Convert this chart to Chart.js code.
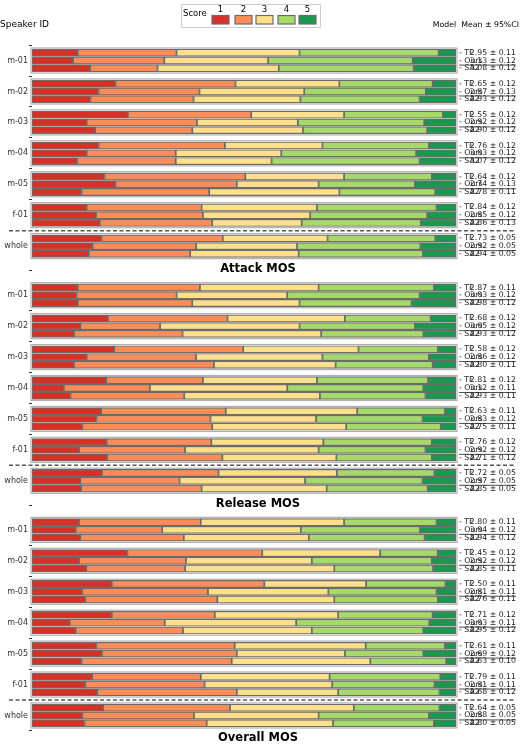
<!DOCTYPE html>
<html><head><meta charset="utf-8">
<script src="https://cdn.jsdelivr.net/npm/chart.js@4"></script>
<style>html,body{margin:0;padding:0;background:#fff}#w{width:520px;height:754px}</style>
</head><body><div id="w"><canvas id="c"></canvas></div>
<script>
const speakers = ["m-01","m-02","m-03","m-04","m-05","f-01","whole"];
const models = ["TF","Ours","SA2"];
const panelTitles = ["Attack MOS","Release MOS","Overall MOS"];
const scoreLabels = ["1","2","3","4","5"];
// cumulative % boundaries (end of score 1,2,3,4) per row: speaker x model
const attackCum = [
 [10.8,34.1,63.1,95.9],[9.7,31.2,55.7,89.8],[13.7,29.6,58.2,90.0],
 [19.7,48.0,72.5,94.5],[15.7,39.5,64.2,92.9],[13.8,38.1,63.3,91.4],
 [22.6,51.7,73.6,96.9],[12.9,38.9,62.7,92.5],[14.9,37.8,63.9,93.2],
 [15.7,45.5,68.5,93.6],[12.9,33.9,58.8,90.6],[10.6,33.9,56.5,91.4],
 [17.1,50.3,73.6,94.3],[19.7,48.3,67.6,90.3],[11.7,41.8,72.5,95.1],
 [12.9,40.0,67.2,95.4],[15.1,40.3,65.6,93.2],[16.0,42.5,63.6,91.7],
 [16.4,45.0,69.7,95.1],[14.3,38.7,62.5,91.6],[13.4,37.3,62.9,92.2]];
const releaseCum = [
 [10.8,39.6,67.6,94.8],[10.5,34.1,60.2,91.4],[10.8,37.8,63.1,89.5],
 [17.9,46.1,73.8,94.0],[11.4,30.2,63.1,90.3],[9.9,35.5,68.2,92.3],
 [19.4,49.8,77.0,95.7],[12.9,38.7,68.5,93.6],[9.9,42.9,71.6,94.5],
 [17.5,40.3,67.2,93.4],[7.5,27.8,60.2,92.3],[9.1,35.9,67.9,92.8],
 [16.3,45.7,76.7,97.4],[15.2,42.1,67.0,92.1],[11.9,42.5,74.1,96.4],
 [17.6,42.3,68.7,94.3],[11.1,36.1,67.6,92.8],[17.7,44.9,71.8,94.3],
 [16.5,44.0,71.9,94.9],[11.4,34.8,64.4,92.1],[11.6,40.0,69.5,93.3]];
const overallCum = [
 [11.1,39.8,73.6,95.4],[10.3,30.7,63.4,91.5],[11.4,35.8,65.3,92.6],
 [22.5,54.3,82.1,95.7],[11.1,36.3,66.0,94.3],[12.8,36.1,71.3,94.6],
 [18.8,54.8,78.8,97.5],[11.9,41.5,69.9,95.4],[12.6,43.7,71.3,95.7],
 [18.8,43.1,72.2,94.5],[8.9,31.3,62.3,93.7],[10.3,35.6,66.0,92.3],
 [15.2,47.8,78.7,97.4],[16.5,48.3,73.8,92.3],[11.7,47.1,79.8,97.7],
 [14.2,39.8,70.2,96.3],[12.6,40.7,70.8,94.9],[15.4,48.3,72.2,96.1],
 [16.8,46.7,75.9,96.1],[11.9,38.2,67.6,93.6],[12.4,41.2,71.0,94.8]];
const attackMean = ["2.95 ± 0.11","3.13 ± 0.12","3.08 ± 0.12","2.65 ± 0.12","2.87 ± 0.13","2.93 ± 0.12","2.55 ± 0.12","2.92 ± 0.12","2.90 ± 0.12","2.76 ± 0.12","3.03 ± 0.12","3.07 ± 0.12","2.64 ± 0.12","2.74 ± 0.13","2.78 ± 0.11","2.84 ± 0.12","2.85 ± 0.12","2.86 ± 0.13","2.73 ± 0.05","2.92 ± 0.05","2.94 ± 0.05"];
const releaseMean = ["2.87 ± 0.11","3.03 ± 0.12","2.98 ± 0.12","2.68 ± 0.12","3.05 ± 0.12","2.93 ± 0.12","2.58 ± 0.12","2.86 ± 0.12","2.80 ± 0.11","2.81 ± 0.12","3.12 ± 0.11","2.93 ± 0.11","2.63 ± 0.11","2.83 ± 0.12","2.75 ± 0.11","2.76 ± 0.12","2.92 ± 0.12","2.71 ± 0.12","2.72 ± 0.05","2.97 ± 0.05","2.85 ± 0.05"];
const overallMean = ["2.80 ± 0.11","3.04 ± 0.12","2.94 ± 0.12","2.45 ± 0.12","2.92 ± 0.12","2.85 ± 0.11","2.50 ± 0.11","2.81 ± 0.11","2.76 ± 0.11","2.71 ± 0.12","3.03 ± 0.11","2.95 ± 0.12","2.61 ± 0.11","2.69 ± 0.12","2.63 ± 0.10","2.79 ± 0.11","2.81 ± 0.11","2.68 ± 0.12","2.64 ± 0.05","2.88 ± 0.05","2.80 ± 0.05"];

const colors = ["#d73027","#fc8d59","#fee08b","#a6d96a","#1a9850"];
const panels = [attackCum, releaseCum, overallCum];
const means = [attackMean, releaseMean, overallMean];
const PANEL = 30.35, GROUP = 4.0;
const rowPos = (p,g,r) => p*PANEL + g*GROUP + r;

const datasets = scoreLabels.map((s,k) => {
  const data = [];
  panels.forEach((cum,p) => cum.forEach((row,i) => {
    const a = k===0 ? 0 : row[k-1], b = k===4 ? 100 : row[k];
    data.push({y: rowPos(p, Math.floor(i/3), i%3), x: [a,b]});
  }));
  return {label: s, data, backgroundColor: colors[k], borderColor: "#6b6b6b", borderWidth: 1.2, borderSkipped: false, barThickness: 7.2, grouped: false};
});

const tickMap = {};
panels.forEach((_,p) => speakers.forEach((s,g) => { tickMap[rowPos(p,g,1).toFixed(2)] = s; }));
const FONT = "'DejaVu Sans', sans-serif";

const deco = {
  id: "deco",
  afterDatasetsDraw(chart) {
    const ctx = chart.ctx, y = chart.scales.y, x = chart.scales.x;
    const L = x.getPixelForValue(0), R = x.getPixelForValue(100);
    ctx.save();
    panels.forEach((cum,p) => {
      for (let g=0; g<7; g++) {
        const t = y.getPixelForValue(rowPos(p,g,0)) - 4.8, b = y.getPixelForValue(rowPos(p,g,2)) + 4.8;
        ctx.strokeStyle = "#b0b0b0"; ctx.lineWidth = 1.2; ctx.strokeRect(L-1, t, R-L+2, b-t);
        for (let r=0; r<3; r++) {
          const i = g*3+r, yy = y.getPixelForValue(rowPos(p,g,r));
          ctx.fillStyle = "#222"; ctx.font = "7.8px " + FONT; ctx.textBaseline = "middle";
          ctx.textAlign = "left"; ctx.fillText("- " + models[r], R+3, yy);
          ctx.textAlign = "right"; ctx.fillText(means[p][i], 516, yy);
          if (r===1) { ctx.strokeStyle="#222"; ctx.lineWidth=0.8; ctx.beginPath(); ctx.moveTo(R+3, yy+4.5); ctx.lineTo(516, yy+4.5); ctx.stroke(); }
        }
      }
      const dy = y.getPixelForValue(rowPos(p,5,2)+1);
      ctx.strokeStyle = "#555"; ctx.lineWidth = 1.5; ctx.setLineDash([4,2.5]);
      ctx.beginPath(); ctx.moveTo(9, dy); ctx.lineTo(516, dy); ctx.stroke(); ctx.setLineDash([]);
      const ty = y.getPixelForValue(rowPos(p,6,2)) + 15;
      ctx.fillStyle = "#000"; ctx.font = "bold 11.5px " + FONT; ctx.textAlign = "center";
      ctx.fillText(panelTitles[p], 258, ty);
    });
    ctx.font = "9px " + FONT; ctx.textAlign = "left"; ctx.fillStyle = "#000"; ctx.textBaseline = "middle";
    ctx.fillText("Speaker ID", 0, 25);
    ctx.font = "7.8px " + FONT; ctx.textAlign = "right"; ctx.fillText("Model  Mean ± 95%CI", 519, 25);
    // legend
    ctx.strokeStyle = "#cccccc"; ctx.lineWidth = 1; ctx.fillStyle = "#fff";
    ctx.beginPath(); ctx.rect(181.5, 4.5, 139, 23); ctx.fill(); ctx.stroke();
    ctx.fillStyle = "#000"; ctx.textAlign = "left"; ctx.font = "8.5px " + FONT;
    ctx.fillText("Score", 183, 14);
    const sx = [212, 235, 256, 278, 299];
    scoreLabels.forEach((s,k) => {
      ctx.fillStyle = colors[k]; ctx.fillRect(sx[k], 15.5, 17, 8.5);
      ctx.strokeStyle = "#6b6b6b"; ctx.lineWidth = 1.2; ctx.strokeRect(sx[k], 15.5, 17, 8.5);
      ctx.fillStyle = "#000"; ctx.textAlign = "center"; ctx.fillText(s, sx[k]+8.5, 9.5);
    });
    ctx.restore();
  }
};

new Chart(document.getElementById("c"), {
  type: "bar",
  data: { datasets },
  options: {
    indexAxis: "y", responsive: true, maintainAspectRatio: false, animation: false,
    layout: { padding: { top: 32, bottom: 10, right: 64, left: 0 } },
    plugins: { legend: { display: false }, tooltip: { enabled: false } },
    scales: {
      x: { type: "linear", min: 0, max: 100, display: false },
      y: { type: "linear", reverse: true, min: -0.5, max: rowPos(2,6,2) + 0.5,
        afterFit(s) { s.width = 32; },
        afterBuildTicks(s) { s.ticks = Object.keys(tickMap).map(v => ({ value: parseFloat(v) })); },
        ticks: { autoSkip: false, padding: 1, color: "#333", font: { size: 8, family: FONT },
          callback: v => tickMap[Number(v).toFixed(2)] || "" },
        grid: { drawOnChartArea: false, tickLength: 3, color: "#333" }, border: { display: false } }
    }
  },
  plugins: [deco]
});
</script></body></html>
